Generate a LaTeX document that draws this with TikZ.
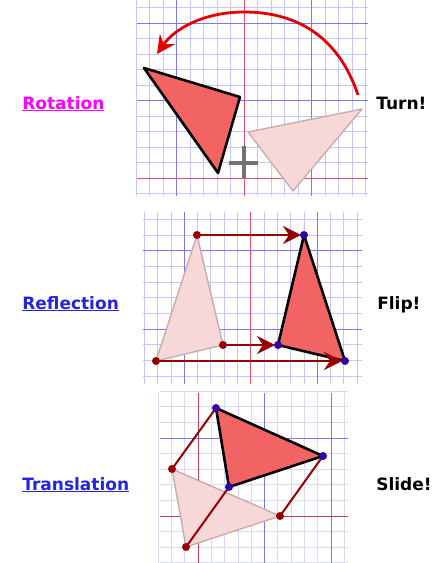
\documentclass[tikz,border=0pt]{standalone}
\usepackage{fontspec}
\setmainfont{DejaVu Sans}
\usetikzlibrary{arrows.meta}
\definecolor{minorc}{RGB}{198,198,255}
\definecolor{majorc}{RGB}{120,120,255}
\definecolor{axisc}{RGB}{232,80,110}
\definecolor{solidc}{RGB}{242,100,100}
\definecolor{ghostc}{RGB}{247,216,216}
\definecolor{ghostlinec}{RGB}{200,172,172}
\definecolor{darkredc}{RGB}{150,0,0}
\definecolor{bluedotc}{RGB}{50,0,170}
\definecolor{pinklinkc}{RGB}{255,0,255}
\definecolor{bluelinkc}{RGB}{36,36,225}
\begin{document}
\begin{tikzpicture}[x=1pt,y=-1pt,line width=.6pt,font=\fontsize{17}{20}\selectfont\bfseries,
  gridline/.style={minorc,line width=.7pt},majorline/.style={majorc,line width=.9pt},axisline/.style={axisc,line width=1pt},
  image/.style={fill=solidc,draw=black,line width=2.6pt,line join=round},
  preimage/.style={fill=ghostc,draw=ghostlinec,line width=1.4pt,line join=round},
  move/.style={darkredc,line width=2.8pt,-{Stealth[length=18pt,width=18pt,inset=6pt]},shorten >=3pt},
  link/.style={darkredc,line width=2pt}]
\useasboundingbox (0,0) rectangle (443,563);
% rotation
\foreach \k in {-8,...,9} \draw[gridline] (244+\k*13.5,0)--(244+\k*13.5,196);
\foreach \j in {-11,...,1} \draw[gridline] (137,178+\j*15.5)--(368,178+\j*15.5);
\draw[majorline] (176.5,0)--(176.5,196) (311.5,0)--(311.5,196) (137,23)--(368,23) (137,100.5)--(368,100.5);
\draw[axisline] (244,0)--(244,196) (137,178)--(368,178);
\coordinate (A) at (248,132);\coordinate (B) at (362,109);\coordinate (C) at (293,191);
\coordinate (a) at (144,68);\coordinate (b) at (240,97);\coordinate (c) at (218,173);
\draw[preimage] (A)--(B)--(C)--cycle;
\draw[image] (a)--(b)--(c)--cycle;
\draw[black!55,line width=4pt] (229,163)--(258,163) (244,146)--(244,178);
\coordinate (s) at (358,95);\coordinate (e) at (157,54);
\draw[red!90!black,line width=2.8pt,-{Stealth[length=18pt,width=18pt,inset=6pt]}] (s) .. controls (338,35) and (295,12) .. (244,12) .. controls (205,12) and (175,28) .. (e);
% reflection
\foreach \k in {-8,...,8} \draw[gridline] (250.7+\k*13.3,212)--(250.7+\k*13.3,384);
\foreach \j in {0,...,10} \draw[gridline] (143,219.3+\j*15.67)--(362,219.3+\j*15.67);
\draw[majorline] (184.2,212)--(184.2,384) (317.2,212)--(317.2,384) (143,250.6)--(362,250.6) (143,329)--(362,329);
\draw[axisline] (250.7,212)--(250.7,384);
\coordinate (D) at (197,235);\coordinate (E) at (223,345);\coordinate (F) at (156,361);
\coordinate (d) at (304,235);\coordinate (f) at (278,345);\coordinate (g) at (345,361);
\draw[preimage] (D)--(E)--(F)--cycle;
\draw[image] (d)--(f)--(g)--cycle;
\draw[move] (D)--(d);\draw[move] (E)--(f);\draw[move] (F)--(g);
\foreach \p in {D,E,F} \fill[darkredc] (\p) circle (4);
\foreach \p in {d,f,g} \fill[bluedotc] (\p) circle (4);
% translation
\foreach \k in {-3,...,11} \draw[gridline,minorc!70] (198+\k*13.3,393)--(198+\k*13.3,563);
\foreach \j in {-8,...,3} \draw[gridline,minorc!70] (160,516+\j*15.6)--(348,516+\j*15.6);
\draw[majorline] (264.5,393)--(264.5,563) (331,393)--(331,563) (160,438)--(348,438);
\draw[axisline,axisc!80!black] (198,393)--(198,563) (160,516)--(348,516);
\coordinate (G) at (172,469);\coordinate (H) at (280,516);\coordinate (K) at (186,547);
\coordinate (g1) at (216,408);\coordinate (h1) at (323,456);\coordinate (k1) at (229,487);
\draw[preimage] (G)--(H)--(K)--cycle;
\draw[link] (G)--(g1) (H)--(h1) (K)--(k1);
\draw[image] (g1)--(h1)--(k1)--cycle;
\foreach \p in {G,H,K} \fill[darkredc] (\p) circle (4);
\foreach \p in {g1,h1,k1} \fill[bluedotc] (\p) circle (4);
% labels
\node[anchor=base west,inner sep=0,text=pinklinkc] (rot) at (22,109) {\underline{Rotation}};
\node[anchor=base west,inner sep=0,text=bluelinkc] (refl) at (22,309) {\underline{Reflection}};
\node[anchor=base west,inner sep=0,text=bluelinkc] (trans) at (22,490) {\underline{Translation}};
\node[anchor=base west,inner sep=0] (turn) at (376,109) {Turn!};
\node[anchor=base west,inner sep=0] (flip) at (377,309) {Flip!};
\node[anchor=base west,inner sep=0] (slide) at (376,490) {Slide!};
\end{tikzpicture}
\end{document}
